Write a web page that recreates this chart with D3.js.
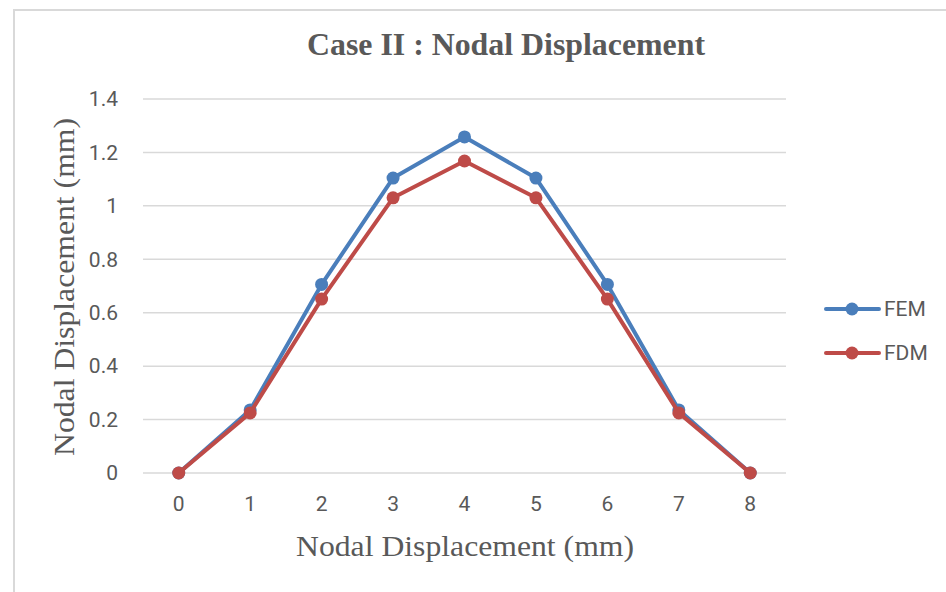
<!DOCTYPE html>
<html><head><meta charset="utf-8">
<script src="https://cdn.jsdelivr.net/npm/d3@7"></script>
<style>body{margin:0;background:#fff}svg{display:block}</style>
</head><body>
<script>
const categories = ["0","1","2","3","4","5","6","7","8"];
const femValues = [0, 0.236, 0.706, 1.104, 1.258, 1.104, 0.706, 0.236, 0];
const fdmValues = [0, 0.225, 0.651, 1.030, 1.168, 1.030, 0.651, 0.225, 0];
const yTicks = [0, 0.2, 0.4, 0.6, 0.8, 1, 1.2, 1.4];
const seriesNames = ["FEM", "FDM"];
const colors = ["#4A7EBB", "#BE4B48"];

(function(){
const W = 946, H = 592;
const svg = d3.select("body").append("svg").attr("width", W).attr("height", H);
svg.append("rect").attr("x",0).attr("y",0).attr("width",W).attr("height",H).attr("fill","#fff");
svg.append("rect").attr("x",14).attr("y",10).attr("width",W+20).attr("height",H+20)
  .attr("fill","none").attr("stroke","#d9d9d9").attr("stroke-width",2);

const pl = 143, pr = 786, pt = 99, pb = 473;
const x = d3.scaleBand().domain(categories).range([pl, pr]);
const y = d3.scaleLinear().domain([0, 1.4]).range([pb, pt]);
const cx = d => x(d) + x.bandwidth()/2;

svg.append("g").selectAll("line").data(yTicks).join("line")
  .attr("x1", pl).attr("x2", pr)
  .attr("y1", d => y(d)).attr("y2", d => y(d))
  .attr("stroke", "#d9d9d9").attr("stroke-width", 1.5);

const tickFont = "Roboto,'Liberation Sans',sans-serif";
svg.append("g").selectAll("text").data(yTicks).join("text")
  .attr("x", 118).attr("y", d => y(d)).attr("dy", "0.35em")
  .attr("text-anchor", "end").attr("font-family", tickFont).attr("font-size", 21)
  .attr("fill", "#595959").text(d => String(+d.toFixed(1)));
svg.append("g").selectAll("text").data(categories).join("text")
  .attr("x", d => cx(d)).attr("y", 511)
  .attr("text-anchor", "middle").attr("font-family", tickFont).attr("font-size", 21)
  .attr("fill", "#595959").text(d => d);

const serif = "'Liberation Serif','Times New Roman',serif";
svg.append("text").attr("x", 506).attr("y", 55).attr("text-anchor","middle")
  .attr("font-family", serif).attr("font-weight","bold").attr("font-size", 31)
  .attr("fill","#595959").attr("textLength", 398).attr("lengthAdjust","spacingAndGlyphs")
  .text("Case II : Nodal Displacement");
svg.append("text").attr("x", 465).attr("y", 556).attr("text-anchor","middle")
  .attr("font-family", serif).attr("font-size", 29)
  .attr("fill","#595959").attr("textLength", 338).attr("lengthAdjust","spacingAndGlyphs")
  .text("Nodal Displacement  (mm)");
svg.append("text").attr("transform","translate(74,287) rotate(-90)").attr("text-anchor","middle")
  .attr("font-family", serif).attr("font-size", 29)
  .attr("fill","#595959").attr("textLength", 338).attr("lengthAdjust","spacingAndGlyphs")
  .text("Nodal Displacement  (mm)");

const line = d3.line().x((d,i) => cx(categories[i])).y(d => y(d));
[femValues, fdmValues].forEach((vals, s) => {
  const g = svg.append("g");
  g.append("path").datum(vals).attr("d", line).attr("fill","none")
    .attr("stroke", colors[s]).attr("stroke-width", 4).attr("stroke-linejoin","round");
  g.selectAll("circle").data(vals).join("circle")
    .attr("cx", (d,i) => cx(categories[i])).attr("cy", d => y(d)).attr("r", 6.5)
    .attr("fill", colors[s]);
});

const legY = [309, 353];
seriesNames.forEach((name, s) => {
  const g = svg.append("g");
  g.append("line").attr("x1", 826).attr("x2", 879).attr("y1", legY[s]).attr("y2", legY[s])
    .attr("stroke", colors[s]).attr("stroke-width", 4).attr("stroke-linecap","round");
  g.append("circle").attr("cx", 852).attr("cy", legY[s]).attr("r", 6.5).attr("fill", colors[s]);
  g.append("text").attr("x", 884).attr("y", legY[s]).attr("dy","0.35em")
    .attr("font-family", tickFont).attr("font-size", 21).attr("fill","#595959").text(name);
});
})();
</script>
</body></html>
